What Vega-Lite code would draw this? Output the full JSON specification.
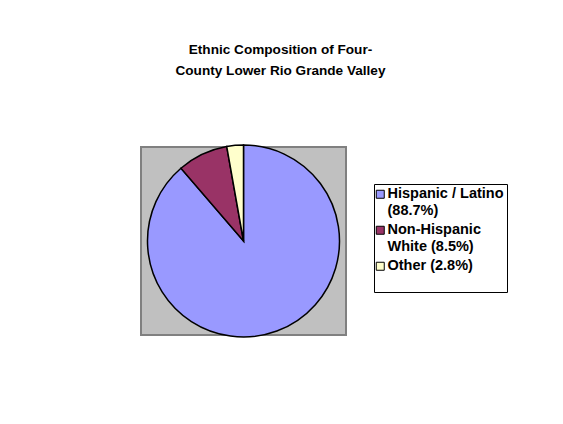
{
  "$schema": "https://vega.github.io/schema/vega-lite/v6.json",
  "width": 205,
  "height": 188,
  "autosize": {"type": "none"},
  "padding": {"left": 141, "top": 147, "right": 217, "bottom": 89},
  "background": "white",
  "view": {"fill": "#c0c0c0", "stroke": "#808080", "strokeWidth": 2},
  "title": {
    "text": ["Ethnic Composition of Four-", "County Lower Rio Grande Valley"],
    "font": "Liberation Sans",
    "fontSize": 13.6,
    "fontWeight": "bold",
    "color": "black",
    "anchor": "middle",
    "dx": 37,
    "offset": 64,
    "lineHeight": 21.5
  },
  "data": {
    "values": [
      {"group": "Hispanic / Latino", "share": 88.7, "ord": 1},
      {"group": "Non-Hispanic White", "share": 8.5, "ord": 2},
      {"group": "Other", "share": 2.8, "ord": 3}
    ]
  },
  "mark": {"type": "arc", "outerRadius": 96, "stroke": "black", "strokeWidth": 1.5},
  "encoding": {
    "theta": {"field": "share", "type": "quantitative", "stack": true},
    "order": {"field": "ord", "type": "quantitative"},
    "color": {
      "field": "group",
      "type": "nominal",
      "sort": ["Hispanic / Latino", "Non-Hispanic White", "Other"],
      "scale": {
        "domain": ["Hispanic / Latino", "Non-Hispanic White", "Other"],
        "range": ["#9999ff", "#993366", "#ffffcc"]
      },
      "legend": {
        "title": " ",
        "titleOrient": "bottom",
        "titleFontSize": 14,
        "titlePadding": 2,
        "orient": "none",
        "legendX": 233,
        "legendY": 37,
        "strokeColor": "black",
        "fillColor": "white",
        "padding": 3,
        "symbolType": "square",
        "symbolSize": 64,
        "symbolOffset": -4,
        "symbolStrokeColor": "black",
        "symbolStrokeWidth": 1,
        "labelFont": "Liberation Sans",
        "labelFontSize": 14.5,
        "labelFontWeight": "bold",
        "labelColor": "black",
        "labelLimit": 200,
        "labelBaseline": "middle",
        "labelLineHeight": 16,
        "labelOffset": 0,
        "labelExpr": "datum.label == 'Hispanic / Latino' ? ['Hispanic / Latino', '(88.7%)'] : datum.label == 'Non-Hispanic White' ? ['Non-Hispanic', 'White (8.5%)'] : 'Other (2.8%)'",
        "rowPadding": 4
      }
    }
  }
}
